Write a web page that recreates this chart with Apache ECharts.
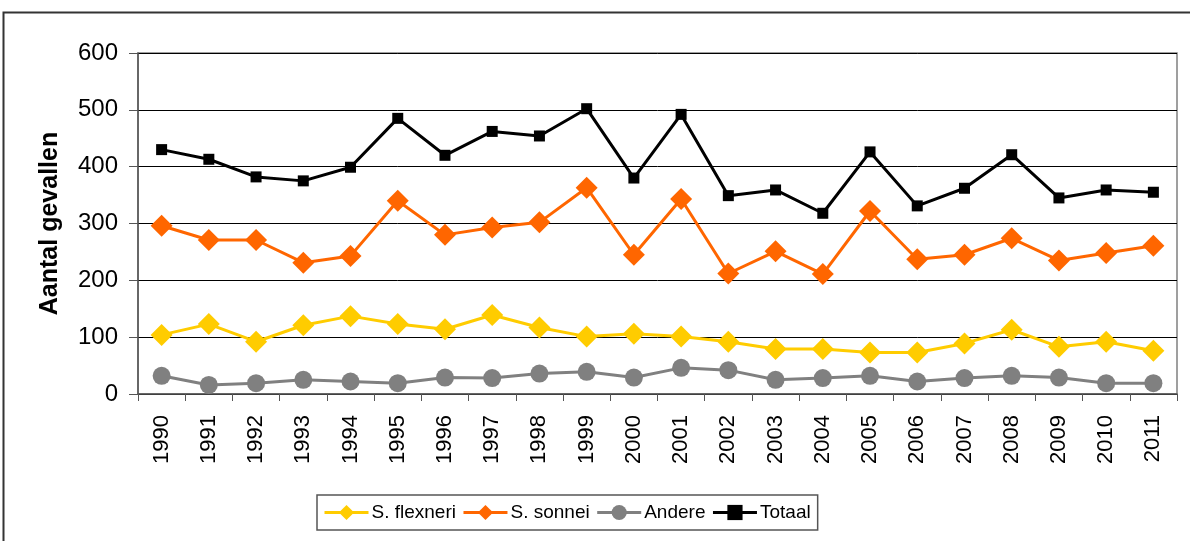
<!DOCTYPE html>
<html><head><meta charset="utf-8">
<script src="https://cdn.jsdelivr.net/npm/echarts@6/dist/echarts.min.js"></script>
<style>html,body{margin:0;padding:0;background:#fff}#c{width:1190px;height:541px}</style>
</head><body><div id="c"></div>
<script>
const years = ['1990','1991','1992','1993','1994','1995','1996','1997','1998','1999','2000','2001','2002','2003','2004','2005','2006','2007','2008','2009','2010','2011'];
const flexneri = [104,123,92,121,137,123,114,139,117,101,106,101,92,79,79,73,73,89,113,83,92,76];
const sonnei = [296,271,271,231,243,340,280,293,302,363,245,343,212,251,211,322,237,245,274,235,248,261];
const andere = [32,16,19,25,22,19,29,28,36,39,29,46,42,25,28,32,22,28,32,29,19,19];
const totaal = [430,413,382,375,399,485,420,462,454,502,380,492,349,359,318,426,331,362,421,345,359,355];
const yTicks = [0,100,200,300,400,500,600];

const chart = echarts.init(document.getElementById('c'), null, {renderer:'canvas'});
const font = 'Arial, "Liberation Sans", sans-serif';
function mk(name, data, color, symbol, size) {
  return {name, type:'line', data, symbol, symbolSize:size, showSymbol:true,
    lineStyle:{color, width:3}, itemStyle:{color, borderWidth:0}, animation:false, z: 3};
}
chart.setOption({
  animation:false,
  graphic:[{type:'rect', shape:{x:3.5,y:12.5,width:1200,height:540}, style:{fill:null, stroke:'#333', lineWidth:2}, silent:true}],
  grid:{left:138, right:13, top:53, bottom:147, show:true, borderColor:'#808080', borderWidth:1.5, backgroundColor:'transparent'},
  xAxis:{type:'category', data:years, boundaryGap:true,
    axisLine:{lineStyle:{color:'#555', width:1.5}},
    axisTick:{show:true, length:7, alignWithLabel:false, lineStyle:{color:'#555'}},
    axisLabel:{rotate:90, interval:0, fontSize:22, color:'#000', fontFamily:font, margin:21}},
  yAxis:{type:'value', min:0, max:600, interval:100,
    name:'Aantal gevallen', nameLocation:'middle', nameGap:75, nameRotate:90,
    nameTextStyle:{fontSize:25, fontWeight:'bold', color:'#000', fontFamily:font},
    axisLine:{show:true, lineStyle:{color:'#555', width:1.5}},
    axisTick:{show:true, length:9, inside:false, lineStyle:{color:'#555'}},
    axisLabel:{fontSize:24, color:'#000', fontFamily:font, margin:20,
      formatter: v => yTicks.includes(v) ? String(v) : ''},
    splitLine:{show:true, lineStyle:{color:'#000', width:1}}},
  legend:{bottom:11, left:317, itemGap:6, itemWidth:44, itemHeight:19,
    borderColor:'#555', borderWidth:1.5, padding:[8,7,8,6],
    lineStyle:{width:3},
    textStyle:{fontSize:19, color:'#000', fontFamily:font, padding:[0,0,0,-2]},
    data:['S. flexneri','S. sonnei','Andere','Totaal']},
  series:[
    mk('S. flexneri', flexneri, '#FFCC00', 'diamond', 22),
    mk('S. sonnei', sonnei, '#FF6600', 'diamond', 22),
    mk('Andere', andere, '#808080', 'circle', 18),
    mk('Totaal', totaal, '#000000', 'rect', 11)
  ]
});
</script></body></html>
